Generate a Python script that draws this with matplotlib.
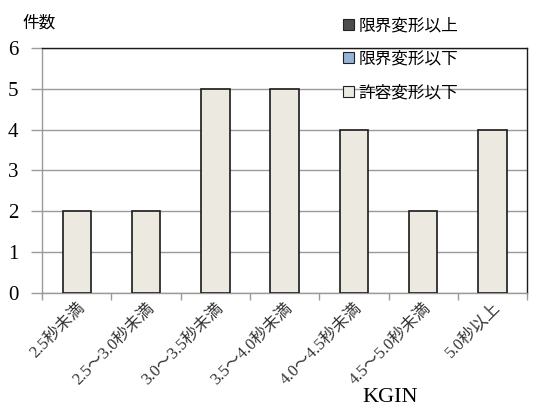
import matplotlib
matplotlib.use("Agg")
import matplotlib.pyplot as plt
from matplotlib.patches import Patch
import numpy as np

plt.rcParams['font.family'] = ['Liberation Serif', 'Noto Sans CJK JP']

categories = ["2.5秒未満", "2.5～3.0秒未満", "3.0～3.5秒未満", "3.5～4.0秒未満",
              "4.0～4.5秒未満", "4.5～5.0秒未満", "5.0秒以上"]
counts = [2, 2, 5, 5, 4, 2, 4]
legend_labels = ["限界変形以上", "限界変形以下", "許容変形以下"]
legend_colors = ["#4d4d4d", "#95b3d7", "#eceae0"]
yticks = [0, 1, 2, 3, 4, 5, 6]

fig = plt.figure(figsize=(5.33, 4.12), dpi=100)
ax = fig.add_axes([0.079, 0.289, 0.910, 0.595])

x = np.arange(len(categories))
ax.bar(x, counts, width=0.41, color="#eceae0", edgecolor="#1a1a1a", linewidth=1.2, zorder=3)

ax.set_xlim(-0.5, len(categories) - 0.5)
ax.set_ylim(0, 6)
ax.set_yticks(yticks)
ax.set_yticklabels([str(v) for v in yticks], fontsize=15)
ax.yaxis.grid(True, color="#9a9a9a", linewidth=1.0, zorder=0)

# category labels between boundary ticks
ax.set_xticks(x)
ax.set_xticklabels(categories, rotation=45, ha="right", rotation_mode="anchor",
                   fontsize=12, color="#333333")
ax.tick_params(axis="x", length=0, pad=5)
ax.set_xticks(np.arange(-0.5, len(categories)), minor=True)
ax.tick_params(axis="x", which="minor", length=5, color="#9a9a9a", width=1)
ax.tick_params(axis="y", length=8, color="#9a9a9a", width=1, pad=9)

for side in ("left", "bottom"):
    ax.spines[side].set_color("#9a9a9a")
    ax.spines[side].set_linewidth(1.0)
for side in ("top", "right"):
    ax.spines[side].set_color("#1a1a1a")
    ax.spines[side].set_linewidth(1.0)

fig.text(0.043, 0.945, "件数", fontsize=12, family=['Noto Sans CJK JP'], va="center")
fig.text(0.732, 0.034, "KGIN", fontsize=16, va="center", ha="center")

handles = [Patch(facecolor=c, edgecolor="#222222", linewidth=0.8) for c in legend_colors]
leg = fig.legend(handles, legend_labels, loc="upper left", bbox_to_anchor=(0.615, 0.995),
                 frameon=False, handlelength=0.65, handleheight=0.65, handletextpad=0.3,
                 labelspacing=1.0, prop={"family": "Noto Sans CJK JP", "size": 12})

fig.savefig("out.png", dpi=100)
